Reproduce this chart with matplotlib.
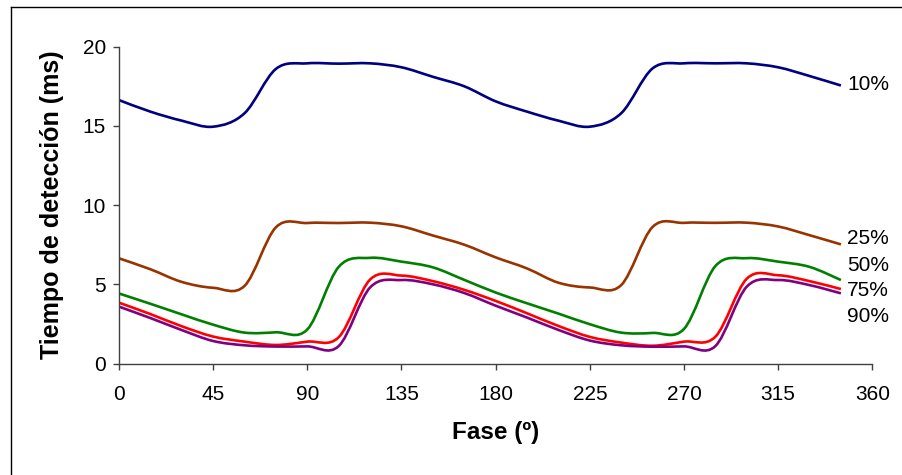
import numpy as np
import matplotlib
matplotlib.use('Agg')
from matplotlib import pyplot as plt
from matplotlib.path import Path
from matplotlib.patches import PathPatch
from matplotlib.lines import Line2D

# phase in degrees, one reading every 15
fase = [0, 15, 30, 45, 60, 75, 90, 105, 120, 135, 150, 165,
        180, 195, 210, 225, 240, 255, 270, 285, 300, 315, 330, 345]

t10 = [16.63, 15.9, 15.33, 14.95, 15.8, 18.6, 18.95, 18.93, 18.95, 18.7, 18.1, 17.5,
       16.55, 15.9, 15.33, 14.95, 15.8, 18.63, 18.95, 18.95, 18.95, 18.7, 18.15, 17.55]
t25 = [6.64, 5.95, 5.15, 4.78, 4.9, 8.6, 8.87, 8.87, 8.89, 8.66, 8.08, 7.5,
       6.7, 6.0, 5.1, 4.8, 4.95, 8.62, 8.88, 8.88, 8.89, 8.65, 8.1, 7.52]
t50 = [4.42, 3.77, 3.1, 2.45, 1.95, 1.97, 2.15, 6.1, 6.67, 6.43, 6.07, 5.28,
       4.48, 3.8, 3.15, 2.48, 1.95, 1.93, 2.18, 6.15, 6.65, 6.43, 6.1, 5.27]
t75 = [3.84, 3.12, 2.35, 1.7, 1.38, 1.17, 1.38, 1.66, 5.3, 5.55, 5.2, 4.65,
       3.95, 3.17, 2.37, 1.68, 1.32, 1.12, 1.38, 1.69, 5.35, 5.57, 5.2, 4.7]
t90 = [3.59, 2.87, 2.11, 1.42, 1.15, 1.07, 1.08, 1.1, 4.8, 5.27, 5.0, 4.45,
       3.65, 2.9, 2.12, 1.45, 1.15, 1.06, 1.08, 1.1, 4.85, 5.27, 4.95, 4.43]

series = [t10, t25, t50, t75, t90]
names = ['10%', '25%', '50%', '75%', '90%']
colors = ['#000080', '#993300', '#008000', '#FF0000', '#800080']
label_y = [17.6, 7.9, 6.2, 4.6, 2.95]  # where the end labels sit

xticks = [0, 45, 90, 135, 180, 225, 270, 315, 360]
yticks = [0, 5, 10, 15, 20]

plt.rcParams['font.family'] = ['Liberation Sans', 'DejaVu Sans']


def smooth_path(x, y):
    # Excel-like smoothed line: cubic bezier through every point
    pts = np.column_stack([x, y]).astype(float)
    n = len(pts)
    verts = [pts[0]]
    codes = [Path.MOVETO]
    for i in range(n - 1):
        p0 = pts[max(i - 1, 0)]
        p1 = pts[i]
        p2 = pts[i + 1]
        p3 = pts[min(i + 2, n - 1)]
        verts += [p1 + (p2 - p0) / 6, p2 - (p3 - p1) / 6, p2]
        codes += [Path.CURVE4] * 3
    return Path(verts, codes)


fig = plt.figure(figsize=(9.02, 4.75), dpi=100)
ax = fig.add_axes([119 / 902, 1 - 363.5 / 475, (872.3 - 119) / 902, (363.5 - 46.7) / 475])

for vals, name, c, ly in zip(series, names, colors, label_y):
    ax.add_patch(PathPatch(smooth_path(fase, vals), fill=False, edgecolor=c,
                           lw=1.9, capstyle='butt', joinstyle='round'))
    ax.text(348, ly, name, fontsize=15, va='center', ha='left', clip_on=False)

ax.set_xlim(0, 360)
ax.set_ylim(0, 20)
ax.set_xticks(xticks)
ax.set_yticks(yticks)
ax.tick_params(axis='both', labelsize=15, direction='out', length=4.5,
               width=1, color='#404040')
ax.tick_params(axis='x', pad=11)
ax.tick_params(axis='y', pad=5)
for s in ['top', 'right']:
    ax.spines[s].set_visible(False)
for s in ['left', 'bottom']:
    ax.spines[s].set_color('#404040')
    ax.spines[s].set_linewidth(1)

ax.set_xlabel('Fase (º)', fontsize=17.5, fontweight='bold', labelpad=12)
ax.set_ylabel('Tiempo de detección (ms)', fontsize=18, fontweight='bold', labelpad=13)

# chart border, only top and left are inside the picture
fig.add_artist(Line2D([11 / 902, 1], [1 - 7 / 475, 1 - 7 / 475], color='black', lw=1))
fig.add_artist(Line2D([11 / 902, 11 / 902], [0, 1 - 7 / 475], color='black', lw=1))

fig.savefig('out.png', dpi=100)
